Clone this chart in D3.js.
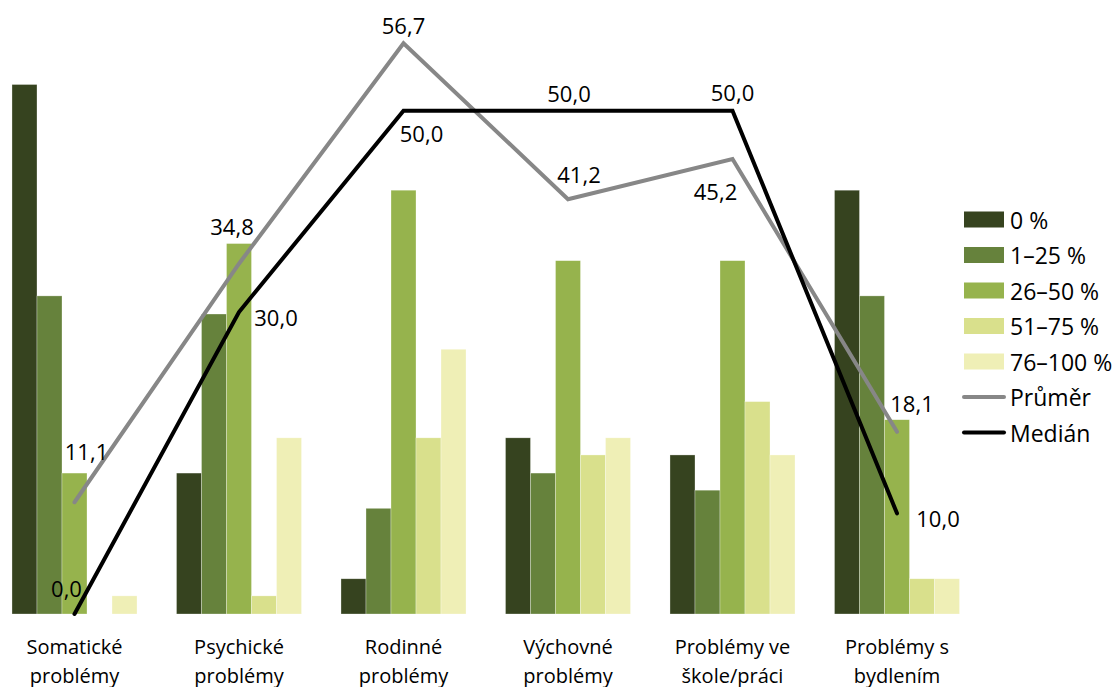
<!DOCTYPE html>
<html>
<head>
<meta charset="utf-8">
<title>Problémy</title>
<script src="https://d3js.org/d3.v7.min.js"></script>
<style>
  html, body { margin: 0; padding: 0; background: #fff; }
  text { font-family: "Open Sans", "Noto Sans", sans-serif; fill: #000; }
</style>
</head>
<body>
<div id="chart"></div>
<script>
  // categories (two-line labels)
  const categories = [
    ['Somatické', 'problémy'],
    ['Psychické', 'problémy'],
    ['Rodinné', 'problémy'],
    ['Výchovné', 'problémy'],
    ['Problémy ve', 'škole/práci'],
    ['Problémy s', 'bydlením']
  ];
  const seriesNames = ['0 %', '1–25 %', '26–50 %', '51–75 %', '76–100 %'];

  // share of respondents (%) per category, one array per series
  const share0 = [52.6, 14.0, 3.5, 17.5, 15.8, 42.1];
  const share1to25 = [31.6, 29.8, 10.5, 14.0, 12.3, 31.6];
  const share26to50 = [14.0, 36.8, 42.1, 35.1, 35.1, 19.3];
  const share51to75 = [0.0, 1.8, 17.5, 15.8, 21.1, 3.5];
  const share76to100 = [1.8, 17.5, 26.3, 17.5, 15.8, 3.5];

  const prumer = [11.1, 34.8, 56.7, 41.2, 45.2, 18.1];
  const median = [0.0, 30.0, 50.0, 50.0, 50.0, 10.0];

  const barColors = ['#36431f', '#66823c', '#96b34d', '#d9e08c', '#efefb6'];
  // label offsets (px) relative to the point, as placed in the original
  const prumerLabelOffset = [[12, -51], [-7, -38], [0, -18], [11, -25], [-17, 32], [15, -29]];
  const medianLabelOffset = [[-8, -26], [37, 5], [18, 22], [1, -18], [0, -19], [41, 5]];

  const width = 1119, height = 687;
  const baseline = 614, plotTop = 10;

  const svg = d3.select('#chart').append('svg')
    .attr('width', width)
    .attr('height', height);

  const seriesData = [share0, share1to25, share26to50, share51to75, share76to100];
  const catIdx = d3.range(categories.length);

  const x = d3.scaleBand()
    .domain(catIdx)
    .range([-7.75, 979.25])
    .paddingInner(0.24)
    .paddingOuter(0.12);

  const xs = d3.scaleBand()
    .domain(d3.range(seriesNames.length))
    .range([0, x.bandwidth()]);

  const y = d3.scaleLinear().domain([0, 60]).range([baseline, plotTop]);

  // bars
  const groups = svg.append('g').selectAll('g')
    .data(catIdx)
    .enter()
    .append('g')
    .attr('transform', function(c){ return 'translate(' + x(c) + ',0)'; });

  groups.selectAll('rect')
    .data(function(c){ return seriesData.map(function(s, i){ return { s: i, v: s[c] }; }); })
    .enter()
    .append('rect')
    .attr('x', function(d){ return xs(d.s); })
    .attr('width', xs.bandwidth())
    .attr('y', function(d){ return y(d.v); })
    .attr('height', function(d){ return baseline - y(d.v); })
    .attr('fill', function(d){ return barColors[d.s]; })
    .attr('stroke', '#fff')
    .attr('stroke-width', 0.6)
    .attr('stroke-opacity', 0.5);

  // lines
  const cx = function(i){ return x(i) + x.bandwidth() / 2; };
  const line = d3.line()
    .x(function(d, i){ return cx(i); })
    .y(function(d){ return y(d); });

  svg.append('path')
    .datum(prumer)
    .attr('d', line)
    .attr('fill', 'none')
    .attr('stroke', '#878787')
    .attr('stroke-width', 4)
    .attr('stroke-linejoin', 'miter')
    .attr('stroke-linecap', 'round');

  svg.append('path')
    .datum(median)
    .attr('d', line)
    .attr('fill', 'none')
    .attr('stroke', '#000')
    .attr('stroke-width', 4)
    .attr('stroke-linejoin', 'miter')
    .attr('stroke-linecap', 'round');

  const fmt = function(v){ return v.toFixed(1).replace('.', ','); };

  function addLabels(values, offsets){
    svg.append('g').selectAll('text')
      .data(values)
      .enter()
      .append('text')
      .attr('x', function(d, i){ return cx(i) + offsets[i][0]; })
      .attr('y', function(d, i){ return y(d) + offsets[i][1]; })
      .attr('text-anchor', 'middle')
      .attr('dominant-baseline', 'central')
      .attr('font-size', '22px')
      .text(fmt);
  }
  addLabels(prumer, prumerLabelOffset);
  addLabels(median, medianLabelOffset);

  // category labels
  const cat = svg.append('g').selectAll('text')
    .data(categories)
    .enter()
    .append('text')
    .attr('text-anchor', 'middle')
    .attr('font-size', '20px')
    .attr('x', function(d, i){ return cx(i); })
    .attr('y', 654);
  cat.append('tspan')
    .attr('x', function(d, i){ return cx(i); })
    .text(function(d){ return d[0]; });
  cat.append('tspan')
    .attr('x', function(d, i){ return cx(i); })
    .attr('dy', 28.5)
    .text(function(d){ return d[1]; });

  // legend
  const legendItems = seriesNames.map(function(n, i){ return { name: n, type: 'bar', color: barColors[i] }; })
    .concat([{ name: 'Průměr', type: 'line', color: '#878787' }, { name: 'Medián', type: 'line', color: '#000' }]);

  const legend = svg.append('g').selectAll('g')
    .data(legendItems)
    .enter()
    .append('g')
    .attr('transform', function(d, i){ return 'translate(964,' + (219.5 + i * 35.5) + ')'; });

  legend.filter(function(d){ return d.type === 'bar'; })
    .append('rect')
    .attr('x', 0)
    .attr('y', -8)
    .attr('width', 40)
    .attr('height', 16)
    .attr('fill', function(d){ return d.color; });

  legend.filter(function(d){ return d.type === 'line'; })
    .append('line')
    .attr('x1', 0)
    .attr('x2', 40)
    .attr('stroke', function(d){ return d.color; })
    .attr('stroke-width', 4)
    .attr('stroke-linecap', 'round');

  legend.append('text')
    .attr('x', 46)
    .attr('y', 0)
    .attr('dominant-baseline', 'central')
    .attr('font-size', '23px')
    .text(function(d){ return d.name; });
</script>
</body>
</html>
